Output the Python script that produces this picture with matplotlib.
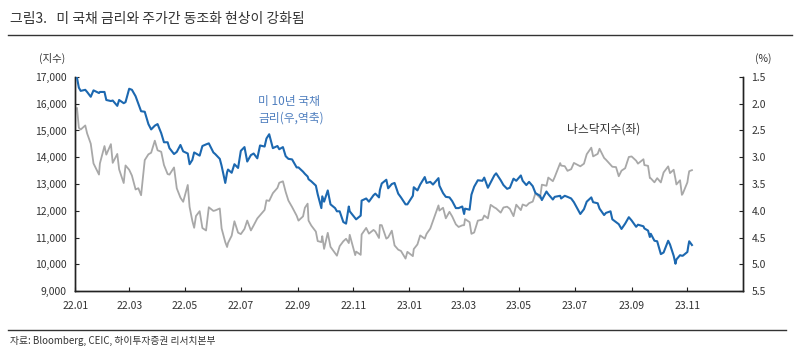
import matplotlib
matplotlib.use('Agg')
import matplotlib.pyplot as plt
import matplotlib.dates as mdates
import pandas as pd

plt.rcParams['font.family'] = ['Noto Sans CJK KR', 'DejaVu Sans']

# ── Data (Nasdaq composite, US 10Y yield) ───────────────────────────────────
dates = [
    '2022-01-03', '2022-01-05', '2022-01-07', '2022-01-12', '2022-01-14', '2022-01-18',
    '2022-01-21', '2022-01-27', '2022-01-28', '2022-02-02', '2022-02-04', '2022-02-09',
    '2022-02-11', '2022-02-16', '2022-02-18', '2022-02-23', '2022-02-25', '2022-03-01',
    '2022-03-04', '2022-03-08', '2022-03-11', '2022-03-14', '2022-03-18', '2022-03-22',
    '2022-03-25', '2022-03-29', '2022-04-01', '2022-04-05', '2022-04-08', '2022-04-12',
    '2022-04-14', '2022-04-19', '2022-04-22', '2022-04-26', '2022-04-29', '2022-05-04',
    '2022-05-06', '2022-05-09', '2022-05-11', '2022-05-13', '2022-05-17', '2022-05-20',
    '2022-05-24', '2022-05-27', '2022-06-01', '2022-06-03', '2022-06-08', '2022-06-10',
    '2022-06-14', '2022-06-16', '2022-06-17', '2022-06-21', '2022-06-24', '2022-06-28',
    '2022-07-01', '2022-07-05', '2022-07-08', '2022-07-12', '2022-07-15', '2022-07-19',
    '2022-07-22', '2022-07-27', '2022-07-29', '2022-08-01', '2022-08-05', '2022-08-10',
    '2022-08-12', '2022-08-16', '2022-08-19', '2022-08-22', '2022-08-26', '2022-08-31',
    '2022-09-02', '2022-09-07', '2022-09-09', '2022-09-12', '2022-09-13', '2022-09-16',
    '2022-09-21', '2022-09-23', '2022-09-27', '2022-09-28', '2022-09-30', '2022-10-04',
    '2022-10-07', '2022-10-12', '2022-10-14', '2022-10-17', '2022-10-21', '2022-10-24',
    '2022-10-27', '2022-10-28', '2022-11-03', '2022-11-04', '2022-11-09', '2022-11-10',
    '2022-11-15', '2022-11-18', '2022-11-23', '2022-11-25', '2022-11-29', '2022-11-30',
    '2022-12-02', '2022-12-07', '2022-12-09', '2022-12-13', '2022-12-16', '2022-12-20',
    '2022-12-23', '2022-12-28', '2022-12-30', '2023-01-05', '2023-01-06', '2023-01-10',
    '2023-01-13', '2023-01-18', '2023-01-20', '2023-01-24', '2023-01-27', '2023-02-02',
    '2023-02-03', '2023-02-07', '2023-02-10', '2023-02-14', '2023-02-17', '2023-02-21',
    '2023-02-24', '2023-02-28', '2023-03-02', '2023-03-03', '2023-03-08', '2023-03-10',
    '2023-03-13', '2023-03-17', '2023-03-22', '2023-03-24', '2023-03-28', '2023-03-31',
    '2023-04-04', '2023-04-06', '2023-04-11', '2023-04-14', '2023-04-18', '2023-04-21',
    '2023-04-25', '2023-04-28', '2023-05-03', '2023-05-05', '2023-05-09', '2023-05-12',
    '2023-05-16', '2023-05-19', '2023-05-24', '2023-05-26', '2023-05-31', '2023-06-02',
    '2023-06-07', '2023-06-09', '2023-06-15', '2023-06-16', '2023-06-20', '2023-06-23',
    '2023-06-27', '2023-06-30', '2023-07-06', '2023-07-07', '2023-07-11', '2023-07-14',
    '2023-07-19', '2023-07-21', '2023-07-26', '2023-07-28', '2023-08-02', '2023-08-04',
    '2023-08-09', '2023-08-11', '2023-08-15', '2023-08-18', '2023-08-21', '2023-08-25',
    '2023-08-29', '2023-09-01', '2023-09-06', '2023-09-08', '2023-09-14', '2023-09-15',
    '2023-09-19', '2023-09-21', '2023-09-22', '2023-09-26', '2023-09-29', '2023-10-03',
    '2023-10-06', '2023-10-11', '2023-10-13', '2023-10-17', '2023-10-19', '2023-10-20',
    '2023-10-24', '2023-10-26', '2023-10-27', '2023-11-01', '2023-11-02', '2023-11-03',
    '2023-11-06',
]

nasdaq = [
    15833, 15100, 15036, 15188, 14894, 14506, 13769, 13353, 13770, 14418, 14098, 14490,
    13791, 14124, 13548, 13037, 13694, 13532, 13313, 12796, 12843, 12581, 13893, 14109,
    14169, 14619, 14261, 14204, 13711, 13372, 13351, 13619, 12839, 12490, 12335, 12964,
    12145, 11623, 11364, 11805, 11985, 11355, 11264, 12131, 11994, 12013, 12086, 11340,
    10828, 10646, 10798, 11069, 11608, 11182, 11128, 11322, 11635, 11265, 11452, 11713,
    11834, 12032, 12391, 12369, 12657, 12855, 13047, 13102, 12705, 12381, 12141, 11816,
    11631, 11792, 12112, 12266, 11634, 11448, 11221, 10868, 10829, 11051, 10576, 11176,
    10652, 10417, 10321, 10676, 10860, 10953, 10793, 11102, 10343, 10475, 10353, 11114,
    11359, 11146, 11285, 11226, 10983, 11468, 11461, 10958, 11005, 11256, 10705, 10547,
    10498, 10213, 10466, 10305, 10569, 10743, 11079, 10958, 11140, 11334, 11622, 12200,
    12007, 12113, 11718, 11961, 11787, 11492, 11395, 11456, 11462, 11689, 11576, 11138,
    11188, 11631, 11670, 11824, 11716, 12222, 12126, 12088, 11930, 12123, 12153, 12073,
    11799, 12227, 12025, 12235, 12180, 12284, 12343, 12658, 12484, 12975, 12935, 13241,
    13105, 13259, 13782, 13689, 13667, 13492, 13555, 13788, 13679, 13661, 13760, 14113,
    14358, 14032, 14127, 14317, 13974, 13909, 13722, 13645, 13632, 13290, 13498, 13590,
    14010, 14031, 13872, 13761, 13926, 13708, 13679, 13224, 13212, 13063, 13219, 13059,
    13431, 13659, 13407, 13533, 13186, 12984, 13140, 12595, 12643, 13061, 13294, 13478,
    13518,
]

ust10y = [
    1.52, 1.70, 1.76, 1.74, 1.78, 1.87, 1.75, 1.80, 1.78, 1.78, 1.93, 1.95,
    1.94, 2.04, 1.93, 1.99, 1.97, 1.72, 1.74, 1.86, 2.00, 2.14, 2.15, 2.38,
    2.48, 2.41, 2.38, 2.55, 2.72, 2.72, 2.83, 2.94, 2.90, 2.77, 2.89, 2.93,
    3.13, 3.05, 2.91, 2.93, 2.97, 2.79, 2.76, 2.74, 2.91, 2.94, 3.03, 3.16,
    3.48, 3.28, 3.23, 3.29, 3.13, 3.20, 2.88, 2.81, 3.08, 2.96, 2.93, 3.02,
    2.78, 2.80, 2.65, 2.57, 2.83, 2.79, 2.85, 2.81, 2.98, 3.03, 3.04, 3.19,
    3.19, 3.27, 3.31, 3.36, 3.41, 3.45, 3.53, 3.69, 3.95, 3.73, 3.83, 3.62,
    3.88, 3.95, 4.01, 4.01, 4.21, 4.24, 3.92, 4.01, 4.14, 4.16, 4.09, 3.81,
    3.77, 3.83, 3.71, 3.68, 3.75, 3.61, 3.49, 3.42, 3.58, 3.50, 3.48, 3.68,
    3.75, 3.88, 3.88, 3.72, 3.56, 3.62, 3.51, 3.37, 3.48, 3.46, 3.51, 3.39,
    3.53, 3.67, 3.74, 3.75, 3.82, 3.95, 3.95, 3.92, 4.06, 3.96, 3.98, 3.70,
    3.55, 3.43, 3.44, 3.38, 3.57, 3.47, 3.34, 3.30, 3.43, 3.52, 3.59, 3.57,
    3.40, 3.44, 3.34, 3.44, 3.52, 3.46, 3.54, 3.67, 3.72, 3.80, 3.64, 3.69,
    3.79, 3.74, 3.72, 3.77, 3.72, 3.74, 3.77, 3.84, 4.03, 4.06, 3.97, 3.83,
    3.75, 3.84, 3.86, 3.96, 4.08, 4.04, 4.01, 4.16, 4.21, 4.25, 4.34, 4.24,
    4.12, 4.18, 4.30, 4.26, 4.29, 4.33, 4.37, 4.49, 4.43, 4.56, 4.57, 4.81,
    4.78, 4.56, 4.63, 4.84, 4.99, 4.91, 4.83, 4.84, 4.84, 4.77, 4.66, 4.57,
    4.64,
]

x_ticks = ['2022-01-01', '2022-03-01', '2022-05-01', '2022-07-01', '2022-09-01',
           '2022-11-01', '2023-01-01', '2023-03-01', '2023-05-01', '2023-07-01',
           '2023-09-01', '2023-11-01']
left_ticks = [9000, 10000, 11000, 12000, 13000, 14000, 15000, 16000, 17000]
right_ticks = [1.5, 2.0, 2.5, 3.0, 3.5, 4.0, 4.5, 5.0, 5.5]

title = '그림3.   미 국채 금리와 주가간 동조화 현상이 강화됨'
source = '자료: Bloomberg, CEIC, 하이투자증권 리서치본부'

BLUE = '#1c68b0'
GRAY = '#a8a8a8'
TXT = '#333333'

x = pd.to_datetime(dates)

fig = plt.figure(figsize=(8, 3.58), dpi=100)
ax = fig.add_axes([0.094, 0.187, 0.835, 0.598])
ax2 = ax.twinx()

ax.plot(x, nasdaq, color=GRAY, linewidth=1.3, zorder=2)
ax2.plot(x, ust10y, color=BLUE, linewidth=1.5, zorder=3)

ax.set_xlim(pd.Timestamp('2022-01-01'), pd.Timestamp('2024-01-01'))
ax.set_xticks(pd.to_datetime(x_ticks))
ax.xaxis.set_major_formatter(mdates.DateFormatter('%y.%m'))
ax.set_ylim(9000, 17000)
ax.set_yticks(left_ticks)
ax.set_yticklabels([f'{v:,}' for v in left_ticks])
ax2.set_ylim(5.5, 1.5)
ax2.set_yticks(right_ticks)
ax2.set_yticklabels([f'{v:.1f}' for v in right_ticks])

for a in (ax, ax2):
    a.spines['top'].set_visible(False)
    for s in ('left', 'right', 'bottom'):
        a.spines[s].set_color('#222222')
        a.spines[s].set_linewidth(1.0)
    a.tick_params(direction='in', length=3, width=0.8, labelsize=7.5,
                  colors='#222222', labelcolor=TXT)
ax.tick_params(axis='x', pad=7)
ax.tick_params(axis='y', pad=6)
ax2.tick_params(axis='y', pad=6)

ax.text(-0.035, 1.06, '(지수)', transform=ax.transAxes, fontsize=7.5,
        color=TXT, ha='center', va='bottom')
ax2.text(1.018, 1.06, '(%)', transform=ax2.transAxes, fontsize=7.5,
         color=TXT, ha='left', va='bottom')

fig.text(258 / 800, 1 - 101 / 358, '미 10년 국채', fontsize=8.5, color='#4f7fbf',
         ha='left', va='center')
fig.text(258 / 800, 1 - 118 / 358, '금리(우,역축)', fontsize=8.5, color='#4f7fbf',
         ha='left', va='center')
fig.text(567 / 800, 1 - 129 / 358, '나스닥지수(좌)', fontsize=8.5, color=TXT,
         ha='left', va='center')

# title / footer rules
fig.text(10 / 800, 1 - 19 / 358, title, fontsize=10, color=TXT, ha='left', va='center')
fig.add_artist(plt.Line2D([8 / 800, 792 / 800], [1 - 35 / 358, 1 - 35 / 358],
                          color='#333333', linewidth=1.0))
fig.add_artist(plt.Line2D([8 / 800, 786 / 800], [1 - 330 / 358, 1 - 330 / 358],
                          color='#333333', linewidth=1.0))
fig.text(10 / 800, 1 - 341 / 358, source, fontsize=7, color=TXT, ha='left', va='center')

fig.savefig('out.png', dpi=100)
